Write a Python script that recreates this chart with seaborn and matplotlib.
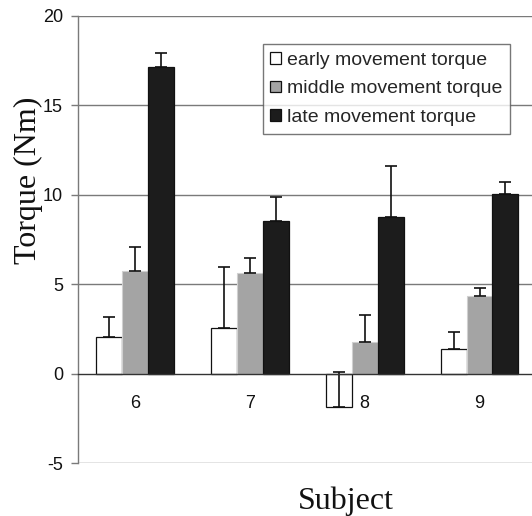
import matplotlib
matplotlib.use("Agg")
import matplotlib.pyplot as plt
import seaborn as sns
import pandas as pd
import numpy as np

subjects = ["6", "7", "8", "9"]
phases = ["early movement torque", "middle movement torque", "late movement torque"]
early = [2.04, 2.56, -1.85, 1.40]
middle = [5.76, 5.62, 1.77, 4.35]
late = [17.17, 8.56, 8.78, 10.03]
early_err = [1.15, 3.39, 1.93, 0.92]
middle_err = [1.34, 0.83, 1.50, 0.46]
late_err = [0.75, 1.32, 2.84, 0.69]
y_ticks = [-5, 0, 5, 10, 15, 20]

colors = ["#ffffff", "#a4a4a4", "#1c1c1c"]

rows = []
for vals, errs, ph in [(early, early_err, phases[0]), (middle, middle_err, phases[1]), (late, late_err, phases[2])]:
    for s, v, e in zip(subjects, vals, errs):
        rows.append({"Subject": s, "Phase": ph, "Torque": v, "Err": e})
df = pd.DataFrame(rows)

sns.set_style("white")
plt.rcParams["font.family"] = ["Liberation Sans", "DejaVu Sans"]

fig = plt.figure(figsize=(5.32, 5.16), dpi=100)
ax = fig.add_axes([77.7 / 532, 1 - 463.1 / 516, 1 - 77.7 / 532, (463.1 - 16) / 516])

sns.barplot(data=df, x="Subject", y="Torque", hue="Phase", order=subjects,
            hue_order=phases, palette=colors, width=0.676, gap=0,
            edgecolor="#111111", linewidth=0.9, errorbar=None, ax=ax, zorder=3)

# lighter edge on the gray bars, as in the reference
for p in ax.containers[1].patches:
    p.set_edgecolor("#d0d0d0")
    p.set_linewidth(0.8)

# error bars from the drawn bars
for ph, cont in zip(phases, ax.containers):
    sub = df[df["Phase"] == ph].set_index("Subject").loc[subjects]
    xs = [p.get_x() + p.get_width() / 2 for p in cont.patches]
    ys = sub["Torque"].values
    es = sub["Err"].values
    ax.errorbar(xs, ys, yerr=[np.zeros_like(es), es], fmt="none", ecolor="#111111",
                elinewidth=1.2, capsize=4, capthick=1.2, zorder=4)

ax.set_ylim(-5, 20)
ax.set_xlim(-0.5, -0.5 + 454.3 / 114.8)
ax.set_yticks(y_ticks)
ax.set_yticklabels([str(t) for t in y_ticks])
for t in y_ticks:
    if t != 0:
        ax.axhline(t, color="#7a7a7a", lw=1.0, zorder=1)

ax.spines["bottom"].set_position(("data", 0))
ax.spines["bottom"].set_color("#333333")
ax.spines["bottom"].set_linewidth(1.0)
ax.spines["bottom"].set_zorder(5)
ax.spines["left"].set_color("#7a7a7a")
ax.spines["left"].set_linewidth(1.0)
ax.spines["top"].set_visible(False)
ax.spines["right"].set_visible(False)

ax.set_xticks(range(len(subjects)))
ax.set_xticklabels(subjects)
ax.set_xticks([0.5, 1.5, 2.5], minor=True)
ax.tick_params(axis="x", which="major", length=0, pad=15, labelsize=13, colors="#111111")
ax.tick_params(axis="x", which="minor", length=4, width=1, direction="out", color="#555555")
ax.tick_params(axis="y", length=5, width=1, direction="out", color="#7a7a7a", pad=5.5,
               labelsize=13, labelcolor="#111111", left=True)

ax.set_xlabel("Subject", fontsize=23, family=["Liberation Serif", "DejaVu Serif"], color="#111111")
ax.xaxis.set_label_coords(0.5906, -0.052)
ax.set_ylabel("Torque (Nm)", fontsize=23, family=["Liberation Serif", "DejaVu Serif"], color="#111111")
ax.yaxis.set_label_coords(-0.077, 0.633)

leg = ax.legend(loc="upper right", bbox_to_anchor=(0.9516, 0.9374), borderaxespad=0,
                fontsize=14, frameon=True, fancybox=False, shadow=False,
                handlelength=0.55, handleheight=0.55, handletextpad=0.3,
                labelspacing=0.6, borderpad=0.4, title=None)
leg.get_frame().set_edgecolor("#555555")
leg.get_frame().set_linewidth(1.0)
for h in leg.legend_handles:
    h.set_edgecolor("#111111")
    h.set_linewidth(0.9)

fig.savefig("out.png", dpi=100)
